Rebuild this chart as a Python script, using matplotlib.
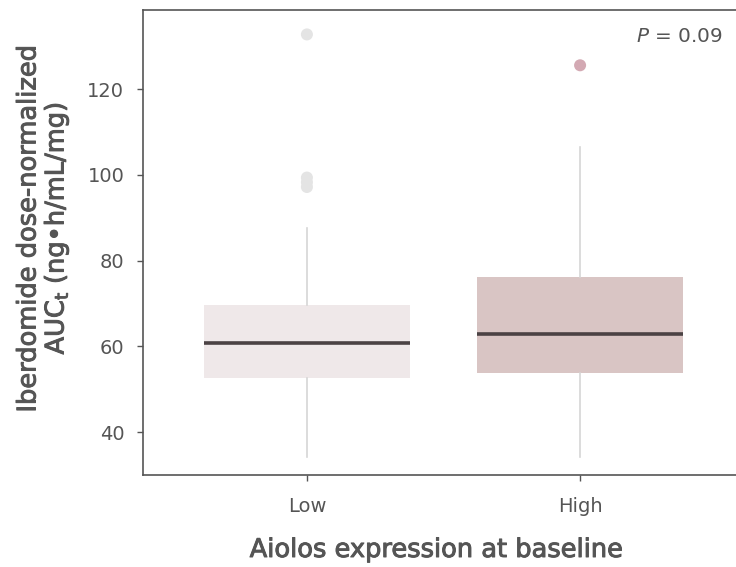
import matplotlib
matplotlib.use("Agg")
import matplotlib.pyplot as plt
import matplotlib.patheffects as pe

categories = ["Low", "High"]
q1 = [52.6, 53.9]
median = [60.7, 63.0]
q3 = [69.6, 76.3]
whisker_low = [34.2, 34.2]
whisker_high = [87.7, 106.5]
outliers = [[97.2, 98.3, 99.4, 132.8], [125.6]]
p_text = "$\\it{P}$ = 0.09"

box_colors = ["#efe8e9", "#d9c5c4"]
flier_colors = ["#e4e4e4", "#d3a9b3"]
text_color = "#555555"

W, H = 736, 567
fig = plt.figure(figsize=(W / 100, H / 100), dpi=100)
ax = fig.add_axes([143 / W, 1 - 475 / H, 601 / W, 465 / H])

stats = []
for i, c in enumerate(categories):
    stats.append(dict(label=c, q1=q1[i], med=median[i], q3=q3[i],
                      whislo=whisker_low[i], whishi=whisker_high[i], fliers=[]))

for i in range(len(categories)):
    ax.bxp([stats[i]], positions=[i], widths=0.755, patch_artist=True,
           showcaps=False, showfliers=False,
           boxprops=dict(facecolor=box_colors[i], edgecolor="none", linewidth=0),
           whiskerprops=dict(color="#d6d6d6", linewidth=1.2),
           medianprops=dict(color="#4b4244", linewidth=2.6, solid_capstyle="butt"))
    ax.scatter([i] * len(outliers[i]), outliers[i], s=75, color=flier_colors[i],
               edgecolors="none", zorder=3)

ax.set_xlim(-0.6, 1.6)
ax.set_ylim(30, 138.5)
ax.set_yticks([40, 60, 80, 100, 120])
ax.set_xticks(range(len(categories)))
ax.set_xticklabels(categories)

for s in ["left", "bottom", "top", "right"]:
    ax.spines[s].set_color("#555555")
    ax.spines[s].set_linewidth(1.2)

ax.tick_params(axis="both", colors="#555555", labelcolor=text_color, labelsize=14,
               length=4.5, width=1)
ax.tick_params(axis="x", pad=11)
ax.tick_params(axis="y", pad=9)

semi = [pe.withStroke(linewidth=0.7, foreground=text_color)]
fig.text(437 / W, 1 - 557 / H, "Aiolos expression at baseline", ha="center",
         va="baseline", fontsize=18.5, color=text_color, path_effects=semi)
fig.text(43.5 / W, 1 - 228 / H,
         "Iberdomide dose-normalized\nAUC$_\\mathregular{t}$ (ng•h/mL/mg)",
         ha="center", va="center", rotation=90, multialignment="center",
         fontsize=18.5, color=text_color, linespacing=1.0, path_effects=semi)

ax.text(0.965, 0.944, p_text, transform=ax.transAxes, ha="right", va="center",
        fontsize=14.4, color=text_color)

fig.savefig("out.png", dpi=100)
